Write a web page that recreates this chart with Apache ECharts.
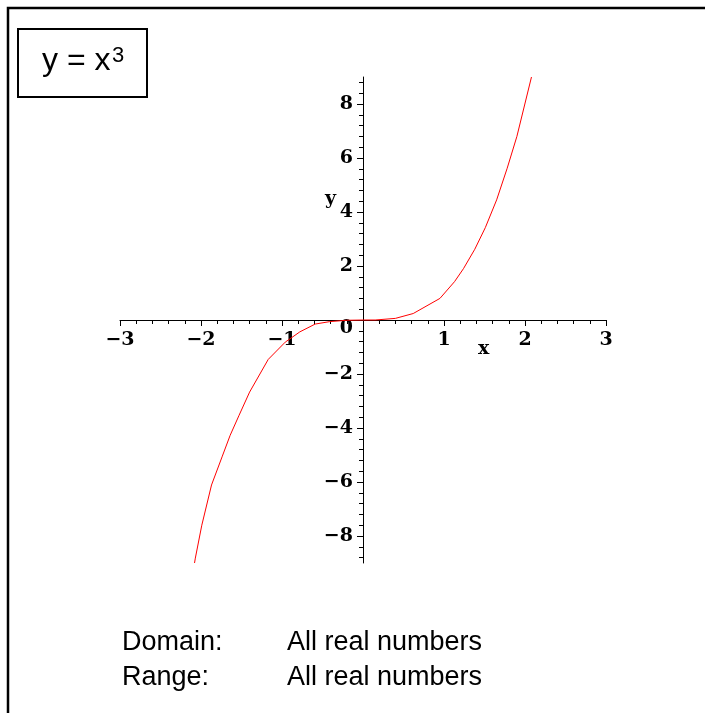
<!DOCTYPE html>
<html>
<head>
<meta charset="utf-8">
<script src="https://cdn.jsdelivr.net/npm/echarts@6/dist/echarts.min.js"></script>
<style>
  html, body { margin: 0; padding: 0; background: #fff; }
  #plot { width: 705px; height: 713px; }
</style>
</head>
<body>
<div id="plot"></div>
<script>
  const curveX = [-2.08, -2.07, -1.99, -1.87, -1.74, -1.64, -1.53, -1.40, -1.17, -0.96, -0.78, -0.59, -0.41, -0.20, 0, 0.15, 0.40, 0.62, 0.95, 1.13, 1.24, 1.38, 1.51, 1.65, 1.78, 1.90, 2.08];
  const curveY = [-9.0, -8.82, -7.6, -6.11, -5.07, -4.27, -3.53, -2.67, -1.46, -0.82, -0.44, -0.15, -0.06, -0.01, 0, 0, 0.06, 0.24, 0.80, 1.42, 1.90, 2.62, 3.42, 4.45, 5.62, 6.80, 9.0];

  const xLabels = [-3, -2, -1, 1, 2, 3];
  const yLabels = [-8, -6, -4, -2, 0, 2, 4, 6, 8];

  // minor ticks on y every 0.4
  let yMinor = [];
  for (let k = -22; k <= 22; k++) {
    let v = Math.round(k * 0.4 * 10) / 10;
    if (v % 2 !== 0) yMinor.push(v);
  }

  const serif = '"DejaVu Serif", serif';
  const sans = '"Liberation Sans", Arial, sans-serif';

  // grid is 486 x 486, origin in the middle -> axes pulled in by half
  const half = 243;

  function fmt(v) {
    return v < 0 ? '\u2212' + Math.abs(v) : String(v);
  }

  let chart = echarts.init(document.getElementById('plot'));

  let data = [];
  for (let i in curveX) {
    data.push([curveX[i], curveY[i]]);
  }

  let labelStyle = {
    color: '#000',
    fontFamily: serif,
    fontWeight: 'bold',
    fontSize: 19
  };

  let option = {
    animation: false,
    backgroundColor: '#fff',
    grid: {
      left: 120,
      right: 99,
      top: 77,
      bottom: 150
    },
    xAxis: {
      type: 'value',
      position: 'bottom',
      offset: -half,
      min: -3,
      max: 3,
      interval: 1,
      axisLine: {
        onZero: false,
        lineStyle: { color: '#000', width: 1 }
      },
      axisTick: {
        length: 6,
        lineStyle: { color: '#000' }
      },
      minorTick: {
        show: true,
        splitNumber: 5,
        length: 4,
        lineStyle: { color: '#000' }
      },
      splitLine: { show: false },
      axisLabel: Object.assign({
        customValues: xLabels,
        formatter: fmt,
        margin: 11
      }, labelStyle)
    },
    yAxis: [
      {
        type: 'value',
        position: 'left',
        offset: -half,
        min: -9,
        max: 9,
        axisLine: {
          onZero: false,
          lineStyle: { color: '#000', width: 1 }
        },
        axisTick: {
          customValues: yLabels,
          length: 6,
          lineStyle: { color: '#000' }
        },
        splitLine: { show: false },
        axisLabel: Object.assign({
          customValues: yLabels,
          formatter: function (v) {
            return v === 0 ? '{z|0}' : fmt(v);
          },
          margin: 10,
          rich: {
            z: Object.assign({ padding: [16, 0, 0, 0] }, labelStyle)
          }
        }, labelStyle)
      },
      {
        type: 'value',
        position: 'right',
        offset: -half,
        min: -9,
        max: 9,
        axisLine: { show: false, onZero: false },
        axisTick: {
          customValues: yMinor,
          inside: true,
          length: 4,
          lineStyle: { color: '#000' }
        },
        splitLine: { show: false },
        axisLabel: { show: false }
      }
    ],
    series: [
      {
        type: 'line',
        data: data,
        showSymbol: false,
        smooth: false,
        silent: true,
        lineStyle: { color: '#ff0000', width: 1 }
      }
    ],
    graphic: [
      {
        type: 'polyline',
        shape: { points: [[8, 713], [8, 8], [705, 8]] },
        style: { stroke: '#000', lineWidth: 2.5, fill: null }
      },
      {
        type: 'rect',
        shape: { x: 18, y: 29, width: 129, height: 68 },
        style: { stroke: '#000', lineWidth: 2, fill: '#fff' }
      },
      {
        type: 'text',
        left: 42, top: 45,
        style: { text: 'y = x', font: '32px ' + sans, fill: '#000' }
      },
      {
        type: 'text',
        left: 112, top: 45,
        style: { text: '3', font: '22px ' + sans, fill: '#000' }
      },
      {
        type: 'text',
        left: 478, top: 340,
        style: { text: 'x', font: 'bold 19px ' + serif, fill: '#000' }
      },
      {
        type: 'text',
        left: 325, top: 190,
        style: { text: 'y', font: 'bold 19px ' + serif, fill: '#000' }
      },
      {
        type: 'text',
        left: 122, top: 629,
        style: { text: 'Domain:', font: '27px ' + sans, fill: '#000' }
      },
      {
        type: 'text',
        left: 287, top: 629,
        style: { text: 'All real numbers', font: '27px ' + sans, fill: '#000' }
      },
      {
        type: 'text',
        left: 122, top: 664,
        style: { text: 'Range:', font: '27px ' + sans, fill: '#000' }
      },
      {
        type: 'text',
        left: 287, top: 664,
        style: { text: 'All real numbers', font: '27px ' + sans, fill: '#000' }
      }
    ]
  };

  chart.setOption(option);
</script>
</body>
</html>
